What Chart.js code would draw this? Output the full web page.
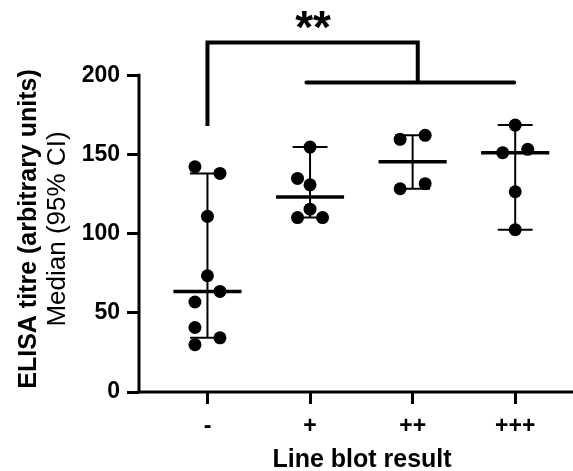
<!DOCTYPE html>
<html>
<head>
<meta charset="utf-8">
<script src="https://cdn.jsdelivr.net/npm/chart.js@4.4.1/dist/chart.umd.min.js"></script>
<style>
  html, body { margin: 0; padding: 0; background: #fff; }
  canvas { display: block; }
</style>
</head>
<body>
<canvas id="elisaChart" width="573" height="471"></canvas>
<script>
// Daten
const categories = ["-", "+", "++", "+++"];
// Werte je Gruppe, dazu die Spalte der Punkte (-1 links, 0 Mitte, 1 rechts)
const valuesNeg = [142.2, 138.0, 110.9, 73.4, 63.5, 56.8, 40.7, 34.2, 29.9];
const columnsNeg = [-1, 1, 0, 0, 1, -1, -1, 1, -1];
const valuesPlus1 = [154.6, 134.8, 130.8, 115.4, 110.1, 110.1];
const columnsPlus1 = [0, -1, 0, 0, -1, 1];
const valuesPlus2 = [159.5, 162.0, 128.3, 131.5];
const columnsPlus2 = [-1, 1, -1, 1];
const valuesPlus3 = [168.5, 151.1, 153.2, 126.4, 102.5];
const columnsPlus3 = [0, -1, 1, 0, 0];

const medians = [63.5, 123.1, 145.4, 151.1];
const ciLow = [34.2, 110.1, 128.3, 102.5];
const ciHigh = [138.0, 154.6, 162.0, 168.5];

const yTicks = [0, 50, 100, 150, 200];

// Signifikanz-Klammer: "-" gegen "+" bis "+++"
const bracketTop = 220.7;
const bracketLow = 195.4;
const bracketLeftEnd = 167.9;
const bracketMid = 3.05;
const bracketLowFrom = 1.965;
const bracketLowTo = 3.99;
const sigLabel = "**";

const yTitle1 = "ELISA titre (arbitrary units)";
const yTitle2 = "Median (95% CI)";
const xTitle = "Line blot result";

const fontFam = "'Liberation Sans', Arial, Helvetica, sans-serif";
const jitter = 0.122;

function punkte(values, cols, gruppe) {
    return values.map((v, i) => ({ x: gruppe + cols[i] * jitter, y: v }));
}

const alle = [].concat(
    punkte(valuesNeg, columnsNeg, 1),
    punkte(valuesPlus1, columnsPlus1, 2),
    punkte(valuesPlus2, columnsPlus2, 3),
    punkte(valuesPlus3, columnsPlus3, 4)
);

// Zeichnet Achsenlinien, Median, KI, Klammer und Titel
const extras = {
    id: "extras",
    beforeDatasetsDraw(chart) {
        const ctx = chart.ctx;
        const xs = chart.scales.x;
        const ys = chart.scales.y;
        const px = v => xs.getPixelForValue(v);
        const py = v => ys.getPixelForValue(v);
        ctx.save();
        ctx.strokeStyle = "#000";
        ctx.fillStyle = "#000";

        // Achsen: y nur von 0 bis 200, x bis zum Rand
        ctx.lineWidth = 3;
        ctx.beginPath();
        ctx.moveTo(xs.left, py(0) + 1.5);
        ctx.lineTo(xs.left, py(200) - 1.5);
        ctx.moveTo(xs.left - 1.5, py(0));
        ctx.lineTo(chart.width, py(0));
        ctx.stroke();

        // Konfidenzintervalle
        const capHalf = 0.17;
        ctx.lineWidth = 2;
        categories.forEach((c, i) => {
            const g = i + 1;
            ctx.beginPath();
            ctx.moveTo(px(g), py(ciLow[i]));
            ctx.lineTo(px(g), py(ciHigh[i]));
            ctx.moveTo(px(g - capHalf), py(ciLow[i]));
            ctx.lineTo(px(g + capHalf), py(ciLow[i]));
            ctx.moveTo(px(g - capHalf), py(ciHigh[i]));
            ctx.lineTo(px(g + capHalf), py(ciHigh[i]));
            ctx.stroke();
        });

        // Medianlinien
        const medHalf = 0.332;
        ctx.lineWidth = 3.5;
        categories.forEach((c, i) => {
            const g = i + 1;
            ctx.beginPath();
            ctx.moveTo(px(g - medHalf), py(medians[i]));
            ctx.lineTo(px(g + medHalf), py(medians[i]));
            ctx.stroke();
        });

        // Klammer
        ctx.lineWidth = 4;
        ctx.lineJoin = "miter";
        ctx.beginPath();
        ctx.moveTo(px(1), py(bracketLeftEnd));
        ctx.lineTo(px(1), py(bracketTop));
        ctx.lineTo(px(bracketMid), py(bracketTop));
        ctx.lineTo(px(bracketMid), py(bracketLow));
        ctx.stroke();
        ctx.lineCap = "round";
        ctx.beginPath();
        ctx.moveTo(px(bracketLowFrom), py(bracketLow));
        ctx.lineTo(px(bracketLowTo), py(bracketLow));
        ctx.stroke();

        ctx.font = "bold 46px " + fontFam;
        ctx.textAlign = "center";
        ctx.textBaseline = "alphabetic";
        ctx.fillText(sigLabel, px(2.03), 43);

        // y-Titel (zweizeilig, verschiedene Schnitte)
        const yc = 229;
        ctx.save();
        ctx.translate(36, yc);
        ctx.rotate(-Math.PI / 2);
        ctx.font = "bold 25px " + fontFam;
        ctx.fillText(yTitle1, 0, 0);
        ctx.restore();
        ctx.save();
        ctx.translate(65, yc);
        ctx.rotate(-Math.PI / 2);
        ctx.font = "26px " + fontFam;
        ctx.fillText(yTitle2, 0, 0);
        ctx.restore();

        // x-Titel
        ctx.font = "bold 25px " + fontFam;
        ctx.fillText(xTitle, 362, 466.5);

        ctx.restore();
    }
};

const ctx = document.getElementById("elisaChart").getContext("2d");
new Chart(ctx, {
    type: "scatter",
    data: {
        datasets: [{
            data: alle,
            backgroundColor: "#000",
            borderWidth: 0,
            pointRadius: 6.5,
            pointHoverRadius: 6.5
        }]
    },
    options: {
        responsive: false,
        animation: false,
        layout: { padding: 0 },
        plugins: {
            legend: { display: false },
            tooltip: { enabled: false }
        },
        scales: {
            x: {
                type: "linear",
                min: 0.3326,
                max: 4.5,
                afterBuildTicks: s => { s.ticks = categories.map((c, i) => ({ value: i + 1 })); },
                afterFit: s => {
                    s.height = 79;
                    s.paddingLeft = 0;
                    s.paddingRight = 0;
                },
                ticks: {
                    autoSkip: false,
                    maxRotation: 0,
                    padding: 9,
                    color: "#000",
                    font: { family: fontFam, size: 23, weight: "bold" },
                    callback: v => categories[Math.round(v) - 1]
                },
                grid: {
                    drawOnChartArea: false,
                    drawTicks: true,
                    tickLength: 12,
                    tickWidth: 3,
                    tickColor: "#000"
                },
                border: { display: false },
                title: { display: false }
            },
            y: {
                min: 0,
                max: 243.35,
                afterBuildTicks: s => { s.ticks = yTicks.map(v => ({ value: v })); },
                afterFit: s => {
                    s.width = 139;
                    s.paddingTop = 0;
                    s.paddingBottom = 0;
                },
                ticks: {
                    padding: 7,
                    color: "#000",
                    font: { family: fontFam, size: 23, weight: "bold" }
                },
                grid: {
                    drawOnChartArea: false,
                    drawTicks: true,
                    tickLength: 12,
                    tickWidth: 3,
                    tickColor: "#000"
                },
                border: { display: false },
                title: { display: false }
            }
        }
    },
    plugins: [extras]
});
</script>
</body>
</html>
